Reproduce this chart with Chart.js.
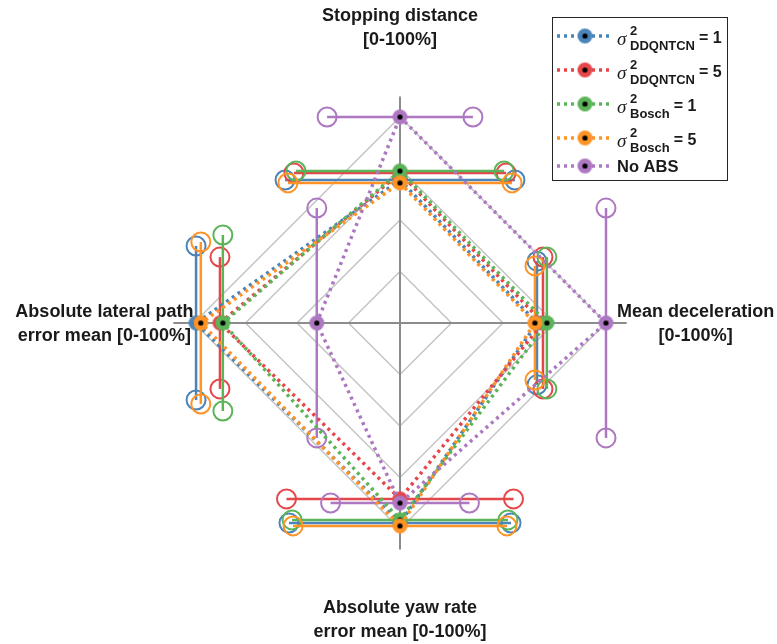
<!DOCTYPE html>
<html>
<head>
<meta charset="utf-8">
<script src="https://cdn.jsdelivr.net/npm/chart.js@4.4.1/dist/chart.umd.min.js"></script>
<style>
  html, body { margin: 0; padding: 0; background: #fff; }
  canvas { display: block; }
</style>
</head>
<body>
<canvas id="spider" width="777" height="644"></canvas>
<script>
// Axes run clockwise starting at the top
const axisLabels = [
    ['Stopping distance', '[0-100%]'],
    ['Mean deceleration', '[0-100%]'],
    ['Absolute yaw rate', 'error mean [0-100%]'],
    ['Absolute lateral path', 'error mean [0-100%]']
];

// Normalised scores (0..1) per axis
const ddqn1 = [0.694, 0.665, 0.971, 0.990];
const ddqn5 = [0.728, 0.694, 0.854, 0.874];
const bosch1 = [0.738, 0.713, 0.956, 0.860];
const bosch5 = [0.680, 0.655, 0.985, 0.967];
const noAbs = [1.000, 1.000, 0.874, 0.404];

// Half-width of the error bars, same units
const ddqn1Err = [0.558, 0.300, 0.539, 0.374];
const ddqn5Err = [0.515, 0.320, 0.551, 0.320];
const bosch1Err = [0.505, 0.320, 0.524, 0.427];
const bosch5Err = [0.544, 0.277, 0.519, 0.393];
const noAbsErr = [0.354, 0.558, 0.337, 0.558];

const seriesNames = ['σ² DDQNTCN = 1', 'σ² DDQNTCN = 5', 'σ² Bosch = 1', 'σ² Bosch = 5', 'No ABS'];
const seriesSubscripts = ['DDQNTCN', 'DDQNTCN', 'Bosch', 'Bosch', null];
const seriesSuffix = ['= 1', '= 5', '= 1', '= 5', 'No ABS'];
const seriesColors = ['#4a84b8', '#e5464a', '#5bb457', '#ff9326', '#ad78c1'];

const seriesValues = [ddqn1, ddqn5, bosch1, bosch5, noAbs];
const seriesErrors = [ddqn1Err, ddqn5Err, bosch1Err, bosch5Err, noAbsErr];

const TEXT_FONT = '"Liberation Sans", Arial, Helvetica, sans-serif';

// marker: coloured disc with a black centre
function makeMarker(color) {
    const c = document.createElement('canvas');
    c.width = 17;
    c.height = 17;
    const g = c.getContext('2d');
    g.fillStyle = color;
    g.beginPath();
    g.arc(8.5, 8.5, 7.5, 0, Math.PI * 2);
    g.fill();
    g.fillStyle = '#000';
    g.beginPath();
    g.arc(8.5, 8.5, 2.6, 0, Math.PI * 2);
    g.fill();
    return c;
}
const markers = seriesColors.map(makeMarker);

const spiderExtras = {
    id: 'spiderExtras',
    beforeDatasetsDraw(chart) {
        const r = chart.scales.r;
        const ctx = chart.ctx;
        ctx.save();

        // axis spokes, a bit longer than the outer ring
        ctx.strokeStyle = '#8c8c8c';
        ctx.lineWidth = 2;
        axisLabels.forEach((_, i) => {
            const end = r.getPointPositionForValue(i, 1.1);
            ctx.beginPath();
            ctx.moveTo(r.xCenter, r.yCenter);
            ctx.lineTo(end.x, end.y);
            ctx.stroke();
        });

        // error bars across each spoke with open-circle caps
        seriesValues.forEach((vals, s) => {
            ctx.strokeStyle = seriesColors[s];
            vals.forEach((v, i) => {
                const p = r.getPointPositionForValue(i, v);
                const d = r.getDistanceFromCenterForValue(seriesErrors[s][i]);
                const dx = -Math.sin(p.angle) * d;
                const dy = Math.cos(p.angle) * d;
                ctx.lineWidth = 2.5;
                ctx.beginPath();
                ctx.moveTo(p.x - dx, p.y - dy);
                ctx.lineTo(p.x + dx, p.y + dy);
                ctx.stroke();
                ctx.lineWidth = 2;
                [-1, 1].forEach(sign => {
                    ctx.beginPath();
                    ctx.arc(p.x + sign * dx, p.y + sign * dy, 9.5, 0, Math.PI * 2);
                    ctx.stroke();
                });
            });
        });
        ctx.restore();
    },
    afterDraw(chart) {
        const r = chart.scales.r;
        const ctx = chart.ctx;
        ctx.save();

        // axis titles
        ctx.fillStyle = '#1a1a1a';
        ctx.font = 'bold 18px ' + TEXT_FONT;
        ctx.textAlign = 'center';
        ctx.textBaseline = 'middle';
        axisLabels.forEach((lines, i) => {
            const p = r.getPointPositionForValue(i, 1.435);
            lines.forEach((txt, k) => {
                ctx.fillText(txt, p.x, p.y + 1 + (k - (lines.length - 1) / 2) * 24);
            });
        });

        // legend
        ctx.textAlign = 'left';
        ctx.textBaseline = 'alphabetic';
        ctx.strokeStyle = '#262626';
        ctx.lineWidth = 1;
        ctx.strokeRect(552.5, 17.5, 175, 163);

        let y = 36;
        seriesNames.forEach((name, s) => {
            const hasSub = !!seriesSubscripts[s];
            // plain rows are shorter than the subscripted ones
            if (s > 0) y += hasSub ? 34 : 28;

            ctx.save();
            ctx.strokeStyle = seriesColors[s];
            ctx.lineWidth = 3.5;
            ctx.setLineDash([3, 4]);
            ctx.beginPath();
            ctx.moveTo(557, y);
            ctx.lineTo(613, y);
            ctx.stroke();
            ctx.restore();
            ctx.drawImage(markers[s], 585 - 8.5, y - 8.5);

            ctx.fillStyle = '#1a1a1a';
            if (hasSub) {
                ctx.font = 'italic 19px "Liberation Serif", "DejaVu Serif", serif';
                ctx.fillText('σ', 617, y + 9);
                ctx.font = 'bold 13px ' + TEXT_FONT;
                ctx.fillText('2', 630, y - 1);
                ctx.fillText(seriesSubscripts[s], 630, y + 14);
                const w = ctx.measureText(seriesSubscripts[s]).width;
                ctx.font = 'bold 16px ' + TEXT_FONT;
                ctx.fillText(seriesSuffix[s], 629 + w + 5, y + 7);
            } else {
                ctx.font = 'bold 16.5px ' + TEXT_FONT;
                ctx.fillText(seriesSuffix[s], 617, y + 6);
            }
        });
        ctx.restore();
    }
};

const ctx = document.getElementById('spider').getContext('2d');

const datasets = seriesValues.map((vals, s) => ({
    label: seriesNames[s],
    data: vals,
    borderColor: seriesColors[s],
    borderWidth: 3.5,
    borderDash: [3, 4],
    fill: false,
    tension: 0,
    pointStyle: markers[s],
    pointRadius: 8,
    clip: false,
    order: seriesValues.length - s
}));

const chart = new Chart(ctx, {
    type: 'radar',
    data: {
        labels: axisLabels.map(l => l.join(' ')),
        datasets: datasets
    },
    options: {
        responsive: false,
        animation: false,
        layout: {
            padding: { left: 180, right: 157, top: 117, bottom: 115 }
        },
        plugins: {
            legend: { display: false },
            tooltip: { enabled: false }
        },
        elements: {
            line: { borderCapStyle: 'butt' }
        },
        scales: {
            r: {
                min: 0,
                max: 1,
                ticks: { display: false, stepSize: 0.25 },
                pointLabels: { display: false },
                angleLines: { display: false },
                grid: { color: '#c4c4c4', lineWidth: 1.5 }
            }
        }
    },
    plugins: [spiderExtras]
});
</script>
</body>
</html>
